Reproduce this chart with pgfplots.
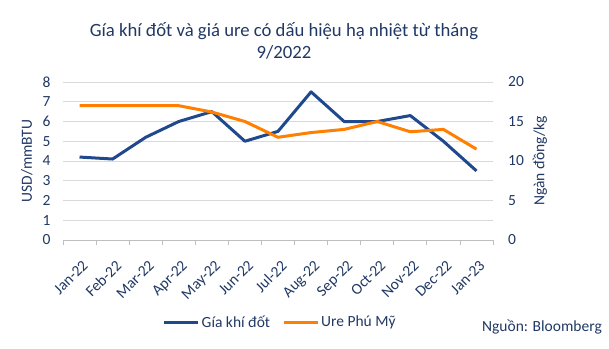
\documentclass[border=0pt]{standalone}
\usepackage{pgfplots}
\pgfplotsset{compat=1.18}
\usepackage{fontspec}
\setmainfont{Carlito}
\definecolor{navy}{RGB}{32,56,100}
\definecolor{gasblue}{RGB}{31,73,140}
\definecolor{ureorange}{RGB}{255,127,0}
\definecolor{gridgray}{RGB}{217,217,217}
\definecolor{axisgray}{RGB}{191,191,191}
\begin{document}
\begin{tikzpicture}
\useasboundingbox (0pt,0pt) rectangle (609pt,348pt);
\pgfplotsset{
  common/.style={
    at={(63pt,108pt)}, anchor=south west, scale only axis,
    width=430pt, height=158pt,
    xmin=-0.5, xmax=12.5,
    /pgf/number format/assume math mode=true,
    every tick label/.append style={font=\fontsize{15.5}{18}\selectfont, text=navy},
    label style={font=\fontsize{15.5}{18}\selectfont, text=navy},
    y axis line style={draw=none},
    major y tick style={draw=none},
  }
}
\begin{axis}[common,
  ymin=0, ymax=8, ytick={0,...,8},
  axis x line*=bottom, axis y line*=left,
  x axis line style={draw=axisgray, line width=0.8pt, -},
  xtick={0,...,12},
  xticklabels={Jan-22,Feb-22,Mar-22,Apr-22,May-22,Jun-22,Jul-22,Aug-22,Sep-22,Oct-22,Nov-22,Dec-22,Jan-23},
  major x tick style={draw=none},
  minor xtick={-0.5,0.5,...,12.5},
  minor x tick style={draw=axisgray, line width=0.8pt},
  tick align=outside, minor tick length=5pt,
  xticklabel style={rotate=45, anchor=north east, inner sep=0pt, xshift=-9pt, yshift=-12pt},
  yticklabel style={inner sep=0pt, xshift=-8pt},
  ymajorgrids, grid style={draw=gridgray, line width=0.8pt},
  ylabel={USD/mmBTU},
  ylabel style={at={(axis description cs:-0.084,0.5)}, anchor=center},
]
\addplot[gasblue, line width=3pt, line join=round] coordinates {
 (0,4.2) (1,4.1) (2,5.2) (3,6.0) (4,6.5) (5,5.0) (6,5.5) (7,7.5) (8,6.0) (9,6.0) (10,6.3) (11,5.0) (12,3.5)};
\end{axis}
\begin{axis}[common,
  ymin=0, ymax=20, ytick={0,5,...,20},
  axis x line=none, axis y line*=right,
  yticklabel style={inner sep=0pt, anchor=west, xshift=15pt},
  ylabel={Ngàn đồng/kg},
  ylabel style={at={(axis description cs:1.109,0.5)}, anchor=center},
  legend style={at={(0.505,-0.519)}, anchor=center, draw=none, fill=none,
    legend columns=2, font=\fontsize{15.5}{18}\selectfont, text=navy,
    /tikz/every even column/.append style={column sep=10pt},
    inner sep=0pt, cells={anchor=west}},
  legend image code/.code={\draw[#1] (0pt,0pt) -- (34pt,0pt);},
]
\addlegendimage{gasblue, line width=3pt}
\addlegendentry{Gía khí đốt}
\addplot[ureorange, line width=3pt, line join=round] coordinates {
 (0,17.0) (1,17.0) (2,17.0) (3,17.0) (4,16.2) (5,15.0) (6,13.0) (7,13.6) (8,14.0) (9,15.0) (10,13.7) (11,14.0) (12,11.5)};
\addlegendentry{Ure Phú Mỹ}
\end{axis}
\node[text=navy, align=center, font=\fontsize{18.7}{22.5}\selectfont] at (284pt,307pt) {Gía khí đốt và giá ure có dấu hiệu hạ nhiệt từ tháng\\9/2022};
\node[text=navy, anchor=east, font=\fontsize{15.5}{18}\selectfont, inner sep=0pt] at (602pt,21pt) {Nguồn: Bloomberg};
\end{tikzpicture}
\end{document}
